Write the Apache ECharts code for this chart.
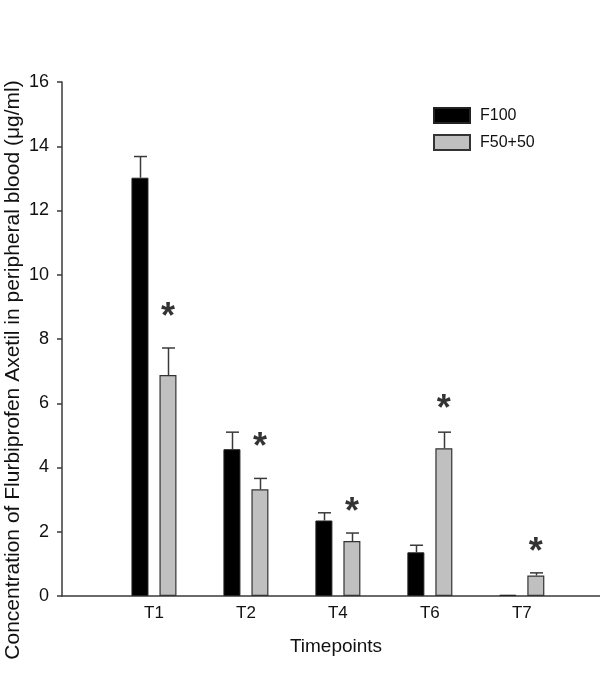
<!DOCTYPE html>
<html>
<head>
<meta charset="utf-8">
<script src="https://cdn.jsdelivr.net/npm/echarts@6/dist/echarts.min.js"></script>
<style>
  html, body { margin: 0; padding: 0; background: #fff; }
  #chart { width: 600px; height: 678px; }
</style>
</head>
<body>
<div id="chart"></div>
<script>
var categories = ['T1', 'T2', 'T4', 'T6', 'T7']
var f100 = [13.02, 4.57, 2.35, 1.36, 0.04]
var f100Err = [13.68, 5.1, 2.59, 1.58, null]
var f5050 = [6.88, 3.32, 1.71, 4.6, 0.64]
var f5050Err = [7.72, 3.66, 1.96, 5.1, 0.72]
var starY = [8.9, 4.85, 2.83, 6.04, 1.6]
var yTicks = [0, 2, 4, 6, 8, 10, 12, 14, 16]

var fontName = 'Liberation Sans'
var barW = 17
var half = 14 // pixel distance from group centre to each bar centre

function pos(i) {
  return i + 1
}

function errorSeries(name, values, errs, offset) {
  var data = []
  for (var i = 0; i < values.length; i++) {
    if (errs[i] != null) data.push([pos(i), values[i], errs[i]])
  }
  return {
    type: 'custom',
    name: name + ' err',
    data: data,
    z: 3,
    silent: true,
    renderItem: function (params, api) {
      var p0 = api.coord([api.value(0), api.value(1)])
      var p1 = api.coord([api.value(0), api.value(2)])
      var cx = Math.round(p0[0] + offset) + 0.5
      var st = { stroke: '#3a3a3a', lineWidth: 1.5 }
      return {
        type: 'group',
        children: [
          { type: 'line', shape: { x1: cx, y1: p0[1], x2: cx, y2: p1[1] }, style: st },
          { type: 'line', shape: { x1: cx - 6.5, y1: p1[1], x2: cx + 6.5, y2: p1[1] }, style: st }
        ]
      }
    }
  }
}

var chart = echarts.init(document.getElementById('chart'))
chart.setOption({
  backgroundColor: '#fff',
  animation: false,
  textStyle: { fontFamily: fontName },
  grid: {
    left: 62,
    right: 0,
    top: 82,
    bottom: 82,
    containLabel: false,
    outerBoundsMode: 'none'
  },
  legend: {
    orient: 'vertical',
    left: 433,
    top: 107,
    padding: 0,
    itemWidth: 36,
    itemHeight: 15,
    itemGap: 10,
    icon: 'rect',
    data: ['F100', 'F50+50'],
    textStyle: { fontSize: 16, color: '#111', padding: [0, 0, 0, 5] }
  },
  xAxis: {
    type: 'value',
    min: 0,
    max: 5.85,
    interval: 1,
    name: 'Timepoints',
    nameLocation: 'middle',
    nameGap: 41,
    nameMoveOverlap: false,
    nameTextStyle: { fontSize: 19, color: '#111', padding: [0, 0, 0, 10] },
    axisLine: { show: true, lineStyle: { color: '#3a3a3a', width: 1.5 } },
    axisTick: { show: false },
    splitLine: { show: false },
    axisLabel: {
      fontSize: 17,
      color: '#111',
      margin: 9,
      showMaxLabel: false,
      formatter: function (v) {
        return categories[v - 1] || ''
      }
    }
  },
  yAxis: {
    type: 'value',
    min: yTicks[0],
    max: yTicks[yTicks.length - 1],
    interval: 2,
    name: 'Concentration of Flurbiprofen Axetil in peripheral blood (\u03bcg/ml)',
    nameLocation: 'middle',
    nameGap: 38,
    nameMoveOverlap: false,
    nameTextStyle: { fontSize: 21, color: '#111', padding: [0, 62, 0, 0] },
    axisLine: { show: true, lineStyle: { color: '#3a3a3a', width: 1.5 } },
    axisTick: { show: true, inside: false, length: 5, lineStyle: { color: '#3a3a3a', width: 1.5 } },
    splitLine: { show: false },
    axisLabel: { fontSize: 18, color: '#111', margin: 13 }
  },
  series: [
    {
      name: 'F100',
      type: 'bar',
      barWidth: barW,
      barGap: ((half * 2 - barW) / barW * 100) + '%',
      data: f100.map(function (v, i) { return [pos(i), v] }),
      itemStyle: { color: '#000', borderColor: '#222', borderWidth: 1 }
    },
    {
      name: 'F50+50',
      type: 'bar',
      barWidth: barW,
      data: f5050.map(function (v, i) { return [pos(i), v] }),
      itemStyle: { color: '#c0c0c0', borderColor: '#333', borderWidth: 1.2 }
    },
    errorSeries('F100', f100, f100Err, -half),
    errorSeries('F50+50', f5050, f5050Err, half),
    {
      name: 'sig',
      type: 'scatter',
      symbolSize: 1,
      itemStyle: { color: 'rgba(0,0,0,0)' },
      silent: true,
      data: starY.map(function (v, i) { return [pos(i), v] }),
      label: {
        show: true,
        position: 'inside',
        offset: [half, 8],
        formatter: '*',
        fontSize: 36,
        fontWeight: 'bold',
        color: '#000'
      }
    }
  ]
})
</script>
</body>
</html>
